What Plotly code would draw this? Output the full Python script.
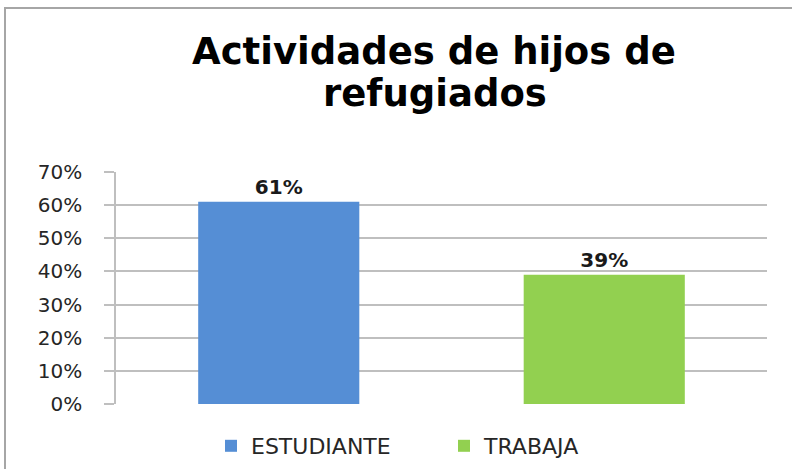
import plotly.graph_objects as go

categories = ["ESTUDIANTE", "TRABAJA"]
values = [0.61, 0.39]
labels = ["61%", "39%"]
colors = ["#558ED5", "#92D050"]
y_ticks = [0, 0.1, 0.2, 0.3, 0.4, 0.5, 0.6, 0.7]
y_tick_labels = ["0%", "10%", "20%", "30%", "40%", "50%", "60%", "70%"]
title_line1 = "Actividades de hijos de"
title_line2 = "refugiados"

PW, PH, L, T = 651, 232, 116, 172

def px_x(x):
    return (x - L) / PW

def px_y(y):
    return (T + PH - y) / PH

fig = go.Figure()
for cat, val, lab, col in zip(categories, values, labels, colors):
    fig.add_trace(go.Bar(
        x=[cat], y=[val], name=cat,
        marker=dict(color=col, line=dict(width=0)),
        width=0.495,
        text=[lab], textposition="outside", cliponaxis=False,
        textfont=dict(family="DejaVu Sans", size=20, color="#1a1a1a", weight="bold"),
    ))

title_font = dict(family="DejaVu Sans", size=37, color="#000000", weight="bold")

fig.update_layout(
    width=792, height=469,
    margin=dict(l=L, r=792 - L - PW, t=T, b=469 - T - PH, autoexpand=False),
    paper_bgcolor="white", plot_bgcolor="white",
    barmode="overlay",
    xaxis=dict(showticklabels=False, ticks="", showgrid=False, showline=False,
               zeroline=False, range=[-0.5, 1.5]),
    yaxis=dict(range=[0, 0.7], tickvals=y_ticks, ticktext=y_tick_labels,
               showgrid=True, gridcolor="#BFBFBF", gridwidth=1.5,
               showline=True, linecolor="#BFBFBF", linewidth=1.5,
               ticks="outside", ticklen=10, tickcolor="#BFBFBF", tickwidth=1.5,
               zeroline=False, ticklabelstandoff=18,
               tickfont=dict(family="DejaVu Sans", size=20, color="#262626")),
    showlegend=True,
    legend=dict(orientation="h", x=px_x(211), xanchor="left",
                y=px_y(425), yanchor="top",
                font=dict(family="DejaVu Sans", size=22, color="#262626"),
                itemwidth=30, entrywidth=188, tracegroupgap=0,
                bgcolor="rgba(0,0,0,0)"),
    annotations=[
        dict(text=title_line1, xref="paper", yref="paper",
             x=px_x(434), y=px_y(28), xanchor="center", yanchor="top",
             showarrow=False, font=title_font),
        dict(text=title_line2, xref="paper", yref="paper",
             x=px_x(435), y=px_y(70), xanchor="center", yanchor="top",
             showarrow=False, font=title_font),
    ],
    shapes=[dict(type="rect", xref="paper", yref="paper",
                 x0=px_x(5), x1=1.2, y0=-0.5, y1=px_y(8),
                 line=dict(color="#A6A6A6", width=2), layer="below")],
)

fig.write_html("out.html", config={"displayModeBar": False},
               post_script="document.body.style.margin='0';document.body.style.padding='0';window.dispatchEvent(new Event('resize'));")
